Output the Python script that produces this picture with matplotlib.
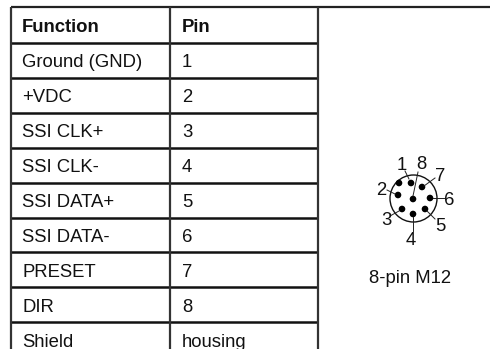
import matplotlib
matplotlib.use("Agg")
import matplotlib.pyplot as plt
from matplotlib.patches import Circle

functions = ["Ground (GND)", "+VDC", "SSI CLK+", "SSI CLK-", "SSI DATA+", "SSI DATA-", "PRESET", "DIR", "Shield"]
pins = ["1", "2", "3", "4", "5", "6", "7", "8", "housing"]
row_lines = [7, 43, 78, 113, 148, 183, 218, 252, 287, 322]
row_base = [67, 102, 137, 172, 207, 242, 277, 312, 347]
col_lines = [11, 170, 318]

# connector drawing, pixel positions
pin_dots = [(411, 183), (399, 183), (398, 195), (402, 209), (413, 214), (425, 209), (430, 198), (422, 187), (413, 199)]
num_labels = ["1", "8", "7", "2", "6", "3", "5", "4"]
# baselines of the digits
num_pos = [(402, 170), (421, 169), (440, 181), (381, 195), (449, 205), (386, 225), (440, 231), (411, 245)]
leaders = [((405, 171), (409, 179)), ((418, 172), (413, 196)), ((435, 178), (424, 186)),
           ((387, 190), (395, 194)), ((444, 198), (433, 198)), ((390, 216), (399, 211)),
           ((435, 219), (427, 211)), ((413, 231), (413, 217))]

fs = 13.3
fam = "Liberation Sans"

fig = plt.figure(figsize=(4.9, 3.49), dpi=100)
ax = fig.add_axes([0, 0, 1, 1])
ax.set_xlim(0, 490)
ax.set_ylim(349, 0)
ax.axis("off")

# table grid
ax.plot([col_lines[0], 490], [row_lines[0], row_lines[0]], color="#222222", lw=1.6, solid_capstyle="butt")
for y in row_lines[1:]:
    ax.plot([col_lines[0], col_lines[2]], [y, y], color="#111111", lw=1.8, solid_capstyle="butt")
for x in col_lines:
    ax.plot([x, x], [row_lines[0], 349], color="#333333", lw=1.6, solid_capstyle="butt")

ax.text(22, 32, "Function", fontsize=fs, fontweight="bold", va="baseline", family=fam, color="#111111")
ax.text(182, 32, "Pin", fontsize=fs, fontweight="bold", va="baseline", family=fam, color="#111111")
for i in range(len(functions)):
    ax.text(22, row_base[i], functions[i], fontsize=fs, va="baseline", family=fam, color="#111111")
    ax.text(182, row_base[i], pins[i], fontsize=fs, va="baseline", family=fam, color="#111111")

# connector
ax.add_patch(Circle((413.5, 198.5), 23.5, fill=False, ec="#111111", lw=1.0))
for (px, py) in pin_dots:
    ax.add_patch(Circle((px, py), 3.3, fc="black", ec="none"))
for a, b in leaders:
    ax.plot([a[0], b[0]], [a[1], b[1]], color="#222222", lw=0.7)
for s, (x, y) in zip(num_labels, num_pos):
    ax.text(x, y, s, fontsize=fs, ha="center", va="baseline", family=fam, color="#111111")
ax.text(410, 283, "8-pin M12", fontsize=fs, ha="center", va="baseline", family=fam, color="#111111")

fig.savefig("out.png", dpi=100)
